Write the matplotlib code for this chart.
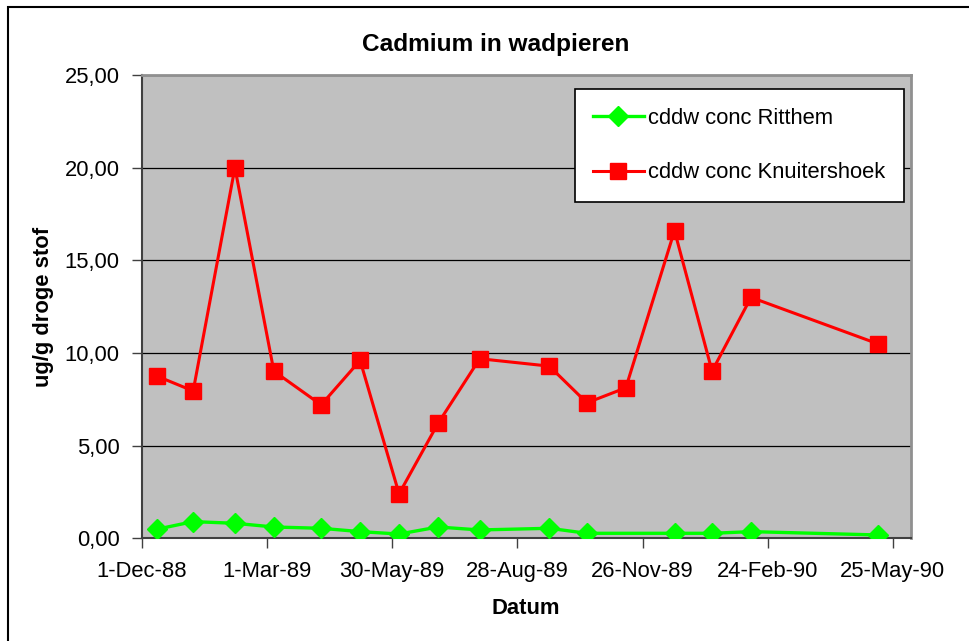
import matplotlib.pyplot as plt
import matplotlib.dates as mdates
from matplotlib.ticker import FuncFormatter
from matplotlib.patches import Rectangle
import pandas as pd

plt.rcParams['font.family'] = ['Liberation Sans', 'DejaVu Sans']

# Meetdata
datum_knuitershoek = ['1988-12-12', '1989-01-07', '1989-02-06', '1989-03-06', '1989-04-09',
                      '1989-05-07', '1989-06-04', '1989-07-02', '1989-08-01', '1989-09-20',
                      '1989-10-17', '1989-11-14', '1989-12-19', '1990-01-15', '1990-02-12',
                      '1990-05-14']
conc_knuitershoek = [8.75, 7.95, 20.0, 9.02, 7.2, 9.6, 2.4, 6.2, 9.69, 9.29,
                     7.31, 8.12, 16.6, 9.02, 13.0, 10.5]

datum_ritthem = ['1988-12-12', '1989-01-07', '1989-02-06', '1989-03-06', '1989-04-09',
                 '1989-05-07', '1989-06-04', '1989-07-02', '1989-08-01', '1989-09-20',
                 '1989-10-17', '1989-12-19', '1990-01-15', '1990-02-12', '1990-05-14']
conc_ritthem = [0.49, 0.90, 0.81, 0.61, 0.54, 0.36, 0.23, 0.61, 0.45, 0.54,
                0.27, 0.27, 0.27, 0.36, 0.18]

x_start = pd.Timestamp('1988-12-01')
x_eind = pd.Timestamp('1990-06-07')
tick_stap = 90  # dagen
y_ticks = [0, 5, 10, 15, 20, 25]

fig = plt.figure(figsize=(9.7, 6.41), dpi=100)
ax = fig.add_axes([141.7 / 970, 1 - 538.3 / 641, (911 - 141.7) / 970, (538.3 - 75) / 641])

# Kader rond de figuur
fig.patches.append(Rectangle((8.5 / 970, -0.1), 1.2, 1 - 6.5 / 641 + 0.1,
                             transform=fig.transFigure, fill=False,
                             edgecolor='black', lw=1.5))

ax.set_facecolor('#C0C0C0')

ax.plot(pd.to_datetime(datum_ritthem), conc_ritthem, color='#00FF00', lw=2.4,
        marker='D', ms=10, mec='#00FF00', mew=1, label='cddw conc Ritthem', zorder=3)
ax.plot(pd.to_datetime(datum_knuitershoek), conc_knuitershoek, color='#FF0000', lw=2.2,
        marker='s', ms=11.5, mec='#FF0000', mew=1, label='cddw conc Knuitershoek', zorder=4)

ax.set_xlim(x_start, x_eind)
ax.set_ylim(0, 25)

# Assen
ax.set_yticks(y_ticks)
ax.yaxis.set_major_formatter(FuncFormatter(lambda v, p: f'{v:.2f}'.replace('.', ',')))
xt = [x_start + pd.Timedelta(days=tick_stap * i) for i in range(7)]
ax.set_xticks(xt)
ax.set_xticklabels([f"{d.day}-{d.strftime('%b-%y')}" for d in xt])
ax.tick_params(axis='both', labelsize=15.8, length=7, width=1, color='#404040', direction='out')
ax.tick_params(axis='y', pad=9)
ax.tick_params(axis='x', pad=9.5)

ax.grid(axis='y', color='black', lw=0.9)
ax.set_axisbelow(True)

for s in ['left', 'bottom']:
    ax.spines[s].set_color('#404040')
    ax.spines[s].set_linewidth(1.5)
for s in ['top', 'right']:
    ax.spines[s].set_color('#909090')
    ax.spines[s].set_linewidth(2)

fig.text(496 / 970, 1 - 44 / 641, 'Cadmium in wadpieren', ha='center', va='center',
         fontsize=17.6, fontweight='bold')
fig.text(526 / 970, 1 - 608 / 641, 'Datum', ha='center', va='center',
         fontsize=15.8, fontweight='bold')
fig.text(44 / 970, 1 - 306.7 / 641, 'ug/g droge stof', ha='center', va='center',
         rotation=90, fontsize=15.8, fontweight='bold')

leg = ax.legend(loc='upper right', bbox_to_anchor=(904 / 970, 1 - 89 / 641),
                bbox_transform=fig.transFigure, borderaxespad=0, fancybox=False,
                edgecolor='black', framealpha=1, fontsize=15.8, handlelength=2.3,
                handletextpad=0.2, labelspacing=1.53, borderpad=0.85)
leg.get_frame().set_linewidth(1.2)

plt.savefig('out.png', dpi=100)
